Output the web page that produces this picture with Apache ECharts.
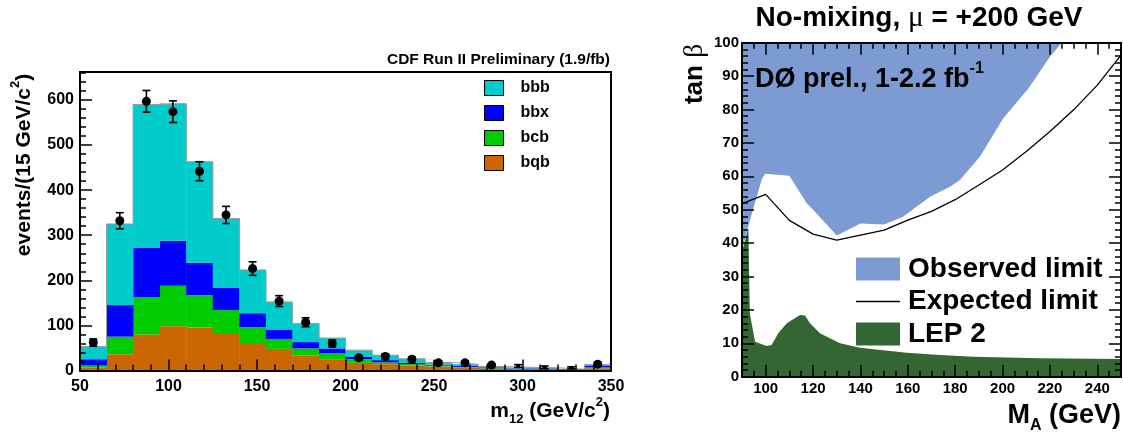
<!DOCTYPE html>
<html lang="en">
<head>
<meta charset="utf-8"/>
<title>m12 spectrum / tan beta limit</title>
<script src="https://cdn.jsdelivr.net/npm/echarts@6/dist/echarts.min.js"></script>
<style>
    html, body { margin: 0; padding: 0; background: #fff; }
    #chart { width: 1123px; height: 433px; }
</style>
</head>
<body>
<div id="chart"></div>
<script type="text/javascript">
// ---- left panel: m12 histogram, 15 GeV bins ----
var binLow = [50, 65, 80, 95, 110, 125, 140, 155, 170, 185, 200, 215, 230, 245, 260, 275, 290, 305, 320, 335];
var binWidth = 15;
var bqb = [7, 36, 80, 98, 95, 81, 61, 48, 33, 25, 17, 14, 11, 9, 7, 4, 3, 3, 1, 5];
var bcb = [4, 39, 83, 90, 72, 53, 35, 22, 16, 13, 8, 4, 3, 2, 1, 1, 1, 1, 1, 2];
var bbx = [14, 70, 110, 100, 72, 50, 31, 21, 14, 11, 6, 5, 3, 2, 2, 2, 1, 1, 0.5, 3];
var bbb = [28, 180, 317, 304, 224, 153, 96, 61, 41, 23, 14, 11, 9, 5, 4, 2, 2, 1, 0.5, 3];
var dataX = [57.5, 72.5, 87.5, 102.5, 117.5, 132.5, 147.5, 162.5, 177.5, 192.5, 207.5, 222.5, 237.5, 252.5, 267.5, 282.5, 297.5, 312.5, 327.5, 342.5];
var dataY = [62, 332, 597, 574, 442, 345, 226, 154, 107, 60, 28, 31, 25, 17, 17, 12, 10, 7, 6, 14];
var dataErr = [8, 18, 24, 24, 21, 19, 15, 12, 10, 8, 5, 6, 5, 4, 4, 3, 3, 3, 2, 4];

// ---- right panel: tan beta exclusion vs MA ----
var obsMA  = [90, 93.4, 98.3, 99.7, 110, 117.3, 120, 130, 140, 150, 158, 169.4, 177.8, 182, 190.5, 200.3, 210.9, 220, 225, 250];
var obsTan = [38, 47, 59, 60.8, 60.2, 51.9, 50, 42.3, 45.9, 45.6, 47.9, 53.9, 56.9, 58.9, 65.9, 77.4, 86.3, 95.8, 100, 100];
var expMA  = [90, 100, 110, 120, 130, 140, 150, 160, 170, 180, 190, 200, 210, 220, 230, 240, 250];
var expTan = [51.8, 54.6, 46.8, 42.7, 40.9, 42.4, 43.9, 46.9, 49.5, 53, 57.4, 61.9, 67.4, 73.4, 79.9, 87.3, 96.3];
var lepMA  = [90, 92.7, 93.0, 93.3, 95.5, 100.4, 102.5, 105.3, 108.9, 114.5, 116.6, 118.7, 122.9, 127.1, 131.4, 139.8, 159.5, 173.6, 187.6, 215.8, 250];
var lepTan = [37.5, 44.5, 44.5, 19, 10.5, 9.2, 9.5, 13, 16, 18.5, 18.3, 16, 13, 11.5, 10, 8.7, 7.2, 6.5, 6, 5.5, 5.3];
var maLabels = [100, 120, 140, 160, 180, 200, 220, 240];

var FONT = '"Liberation Sans", Arial, Helvetica, sans-serif';
var SYM = '"Liberation Serif", "DejaVu Serif", serif';

function pairs(xs, ys) {
    return xs.map(function (x, i) { return [x, ys[i]]; });
}

function drawBin(params, api) {
    var p0 = api.coord([api.value(0), api.value(2)]);
    var p1 = api.coord([api.value(1), api.value(3)]);
    return {
        type: 'rect',
        shape: { x: p0[0], y: p1[1], width: p1[0] - p0[0] + 0.4, height: p0[1] - p1[1] },
        style: { fill: api.visual('color') }
    };
}

function drawErr(params, api) {
    var x = api.value(0), y = api.value(1), e = api.value(2);
    var hi = api.coord([x, y + e]);
    var lo = api.coord([x, y - e]);
    var w = 4;
    var st = { stroke: '#000', lineWidth: 1.6 };
    return {
        type: 'group',
        children: [
            { type: 'line', shape: { x1: hi[0], y1: hi[1], x2: lo[0], y2: lo[1] }, style: st },
            { type: 'line', shape: { x1: hi[0] - w, y1: hi[1], x2: hi[0] + w, y2: hi[1] }, style: st },
            { type: 'line', shape: { x1: lo[0] - w, y1: lo[1], x2: lo[0] + w, y2: lo[1] }, style: st }
        ]
    };
}

// stack the four components
var comps = [['bqb', bqb, '#cc6600'], ['bcb', bcb, '#00cc00'], ['bbx', bbx, '#0000ff'], ['bbb', bbb, '#00cccc']];
var base = binLow.map(function () { return 0; });
var series = comps.map(function (c) {
    var rows = binLow.map(function (lo, i) {
        var r = [lo, lo + binWidth, base[i], base[i] + c[1][i]];
        base[i] += c[1][i];
        return r;
    });
    return {
        type: 'custom', name: c[0], xAxisIndex: 0, yAxisIndex: 0,
        renderItem: drawBin, itemStyle: { color: c[2] },
        encode: { x: [0, 1], y: [2, 3] }, data: rows, z: 2
    };
});

var outline = binLow.map(function (lo, i) { return [lo, base[i]]; });
outline.push([binLow[binLow.length - 1] + binWidth, base[base.length - 1]]);
series.push({
    type: 'line', xAxisIndex: 0, yAxisIndex: 0, step: 'end', data: outline,
    symbol: 'none', lineStyle: { color: '#9a9a9a', width: 1 }, z: 3, silent: true
});
series.push({
    type: 'custom', xAxisIndex: 0, yAxisIndex: 0, renderItem: drawErr,
    data: dataX.map(function (x, i) { return [x, dataY[i], dataErr[i]]; }), z: 4
});
series.push({
    type: 'scatter', xAxisIndex: 0, yAxisIndex: 0,
    data: pairs(dataX, dataY),
    symbolSize: function (v) { return v[1] < 11 ? 4 : 9; },
    itemStyle: { color: '#000', opacity: 1 }, z: 5
});

// right panel
series.push({
    type: 'line', name: 'Observed limit', xAxisIndex: 1, yAxisIndex: 1,
    data: pairs(obsMA, obsTan), symbol: 'none',
    itemStyle: { color: '#7b9bd2' },
    lineStyle: { width: 0, color: '#7b9bd2' },
    areaStyle: { color: '#7b9bd2', opacity: 1, origin: 'end' }, z: 2
});
series.push({
    type: 'line', name: 'LEP 2', xAxisIndex: 1, yAxisIndex: 1,
    data: pairs(lepMA, lepTan), symbol: 'none',
    itemStyle: { color: '#336633' },
    lineStyle: { width: 0, color: '#336633' },
    areaStyle: { color: '#336633', opacity: 1, origin: 'start' }, z: 3
});
series.push({
    type: 'line', name: 'Expected limit', xAxisIndex: 1, yAxisIndex: 1,
    data: pairs(expMA, expTan), symbol: 'none',
    itemStyle: { color: '#000' },
    lineStyle: { width: 1.3, color: '#000' }, z: 4
});

var black = { color: '#000', width: 2 };
var tickSt = { color: '#000', width: 1.5 };
var lblL = { color: '#000', fontFamily: FONT, fontWeight: 'bold', fontSize: 16 };
var lblR = { color: '#000', fontFamily: FONT, fontWeight: 'bold', fontSize: 15 };

var maMinor = { type: 'value', gridIndex: 1, min: 90, max: 250, interval: 5, z: 10,
    splitLine: { show: false }, axisLine: { lineStyle: black },
    axisTick: { inside: true, length: 6, lineStyle: tickSt } };
var maMajor = { type: 'value', gridIndex: 1, min: 90, max: 250, z: 10,
    splitLine: { show: false }, axisLine: { show: false },
    axisLabel: { show: false, customValues: maLabels },
    axisTick: { inside: true, length: 12, lineStyle: tickSt, customValues: maLabels } };
var tanAxis = { type: 'value', gridIndex: 1, min: 0, max: 100, interval: 10, z: 10,
    splitLine: { show: false }, axisLine: { lineStyle: black },
    axisTick: { inside: true, length: 12, lineStyle: tickSt },
    minorTick: { show: true, splitNumber: 5, length: 6, lineStyle: tickSt } };

function txt(x, y, rich, text, opt) {
    var o = {
        type: 'text', x: x, y: y, z: 100,
        style: { text: text, rich: rich, fill: '#000', align: opt.align || 'left', verticalAlign: opt.va || 'middle' }
    };
    if (opt.rot) o.rotation = opt.rot;
    return o;
}
function richSet(F, f, L) {
    return {
        a: { fontFamily: FONT, fontWeight: 'bold', fontSize: F, lineHeight: L, verticalAlign: 'middle', fill: '#000' },
        g: { fontFamily: SYM, fontWeight: 'normal', fontSize: F * 1.05, lineHeight: L, verticalAlign: 'middle', fill: '#000' },
        sup: { fontFamily: FONT, fontWeight: 'bold', fontSize: f, lineHeight: f, verticalAlign: 'top', fill: '#000' },
        sub: { fontFamily: FONT, fontWeight: 'bold', fontSize: f, lineHeight: f, verticalAlign: 'bottom', fill: '#000' }
    };
}

var option = {
    animation: false,
    backgroundColor: '#fff',
    grid: [
        { left: 80, top: 72, width: 531, height: 298.5, show: true, borderColor: '#000', borderWidth: 2, backgroundColor: 'transparent' },
        { left: 742, top: 42.7, width: 379, height: 334 }
    ],
    xAxis: [
        { type: 'value', gridIndex: 0, min: 50, max: 350, interval: 50, z: 10,
          splitLine: { show: false }, axisLine: { lineStyle: black },
          axisLabel: Object.assign({ margin: 8 }, lblL),
          axisTick: { inside: true, length: 11, lineStyle: tickSt },
          minorTick: { show: true, splitNumber: 5, length: 6, lineStyle: tickSt } },
        Object.assign({}, maMinor, { position: 'bottom', axisLabel: Object.assign({ margin: 5, customValues: maLabels }, lblR) }),
        Object.assign({}, maMajor, { position: 'bottom' }),
        Object.assign({}, maMinor, { position: 'top', axisLabel: { show: false } }),
        Object.assign({}, maMajor, { position: 'top' })
    ],
    yAxis: [
        { type: 'value', gridIndex: 0, min: 0, max: 662, interval: 100, z: 10,
          splitLine: { show: false }, axisLine: { lineStyle: black },
          axisLabel: Object.assign({ margin: 6, formatter: function (v) { return v % 100 === 0 ? String(v) : ''; } }, lblL),
          axisTick: { inside: true, length: 12, lineStyle: tickSt },
          minorTick: { show: true, splitNumber: 5, length: 6, lineStyle: tickSt } },
        Object.assign({}, tanAxis, { position: 'left', axisLabel: Object.assign({ margin: 3 }, lblR) }),
        Object.assign({}, tanAxis, { position: 'right', axisLabel: { show: false } })
    ],
    legend: [
        { data: ['bbb', 'bbx', 'bcb', 'bqb'], orient: 'vertical', left: 484, top: 80, padding: 0,
          itemWidth: 19, itemHeight: 15, itemGap: 9, icon: 'rect', selectedMode: false,
          itemStyle: { borderColor: '#000', borderWidth: 1 },
          textStyle: { color: '#000', fontFamily: FONT, fontWeight: 'bold', fontSize: 16, lineHeight: 15, padding: [0, 0, 0, 12] } },
        { data: [
            { name: 'Observed limit', icon: 'rect' },
            { name: 'Expected limit', icon: 'path://M0,0h44v1.4h-44z' },
            { name: 'LEP 2', icon: 'rect' }
          ],
          orient: 'vertical', left: 856, top: 255, padding: 0,
          itemWidth: 44, itemHeight: 23, itemGap: 4.5, selectedMode: false,
          textStyle: { color: '#000', fontFamily: FONT, fontWeight: 'bold', fontSize: 28, lineHeight: 23, height: 23, padding: [0, 0, 0, 3] } }
    ],
    graphic: [
        txt(610, 60, richSet(15.5, 10, 18), '{a|CDF Run II Preliminary (1.9/fb)}', { align: 'right' }),
        txt(24, 165, richSet(21, 13, 30), '{a|events/(15 GeV/c}{sup|2}{a|)}', { align: 'center', rot: Math.PI / 2 }),
        txt(610, 411, richSet(21, 13, 30), '{a|m}{sub|12}{a| (GeV/c}{sup|2}{a|)}', { align: 'right' }),
        txt(919, 18, richSet(28, 14, 34), '{a|No-mixing, }{g|\u03bc}{a| = +200 GeV}', { align: 'center' }),
        txt(695, 74, richSet(26, 14, 32), '{a|tan }{g|\u03b2}', { align: 'center', rot: Math.PI / 2 }),
        txt(755, 80, richSet(27, 16, 38), '{a|D\u00d8 prel., 1-2.2 fb}{sup|-1}', { align: 'left' }),
        txt(1121, 416, richSet(27, 16, 36), '{a|M}{sub|A}{a| (GeV)}', { align: 'right' })
    ],
    series: series
};

var myChart = echarts.init(document.getElementById('chart'), null, { renderer: 'canvas' });
myChart.setOption(option);
</script>
</body>
</html>
